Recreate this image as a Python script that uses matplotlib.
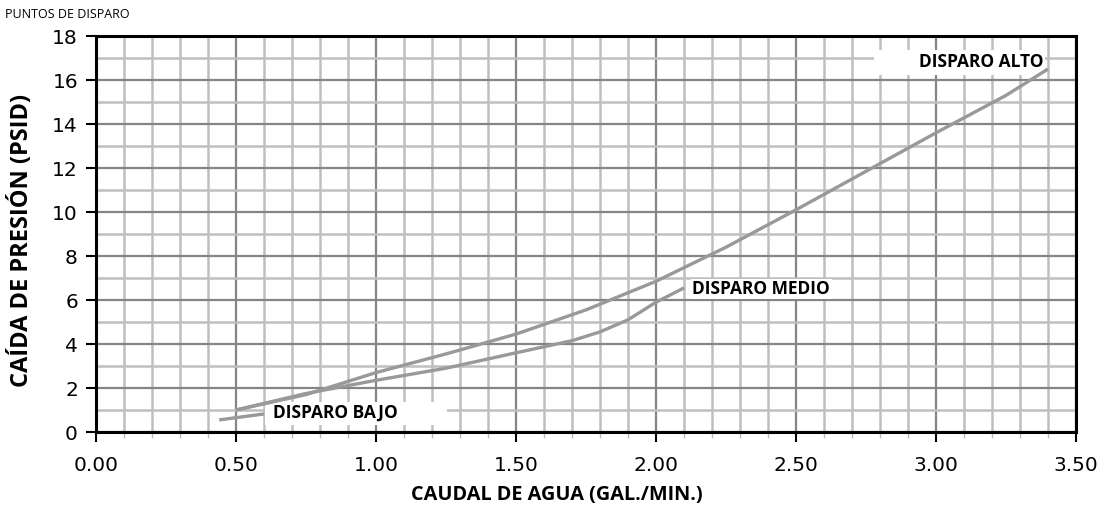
import matplotlib
matplotlib.use("Agg")
import matplotlib.pyplot as plt
from matplotlib.ticker import MultipleLocator, FormatStrFormatter
from matplotlib.patches import Rectangle

# Data
alto_x = [0.50, 0.75, 1.00, 1.25, 1.50, 1.75, 2.00, 2.25, 2.50, 2.75, 3.00, 3.25, 3.40]
alto_y = [1.00, 1.70, 2.70, 3.55, 4.45, 5.55, 6.85, 8.40, 10.10, 11.85, 13.60, 15.30, 16.50]
medio_x = [0.50, 0.75, 1.00, 1.25, 1.50, 1.70, 1.80, 1.90, 2.00, 2.10]
medio_y = [1.00, 1.75, 2.35, 2.90, 3.60, 4.15, 4.55, 5.10, 5.90, 6.55]
bajo_x = [0.44, 0.60]
bajo_y = [0.55, 0.82]
labels = ["DISPARO ALTO", "DISPARO MEDIO", "DISPARO BAJO"]
title = "PUNTOS DE DISPARO"
xlabel = "CAUDAL DE AGUA (GAL./MIN.)"
ylabel = "CAÍDA DE PRESIÓN (PSID)"

fig = plt.figure(figsize=(11.1, 5.13), dpi=100)
ax = fig.add_axes([96/1110, 81/513, 980/1110, 396/513])
ax.set_xlim(0, 3.5)
ax.set_ylim(0, 18)

ax.xaxis.set_major_locator(MultipleLocator(0.5))
ax.xaxis.set_minor_locator(MultipleLocator(0.1))
ax.yaxis.set_major_locator(MultipleLocator(2))
ax.yaxis.set_minor_locator(MultipleLocator(1))
ax.xaxis.set_major_formatter(FormatStrFormatter('%.2f'))

ax.grid(which='minor', color='#bfbfbf', linewidth=1.8, zorder=0)
ax.grid(which='major', color='#858585', linewidth=1.6, zorder=0)
ax.set_axisbelow(True)

for s in ax.spines.values():
    s.set_linewidth(2.2)
    s.set_color('black')

ax.tick_params(which='major', direction='out', length=7, width=1.5, labelsize=14.5, pad=6)
ax.tick_params(axis='x', which='major', pad=10)
ax.tick_params(which='minor', direction='out', length=4, width=1, color='#bfbfbf')
ax.tick_params(axis='y', which='minor', length=0)

line_color = '#999999'
ax.plot(alto_x, alto_y, color=line_color, lw=2.4, solid_capstyle='butt', zorder=3)
ax.plot(medio_x, medio_y, color=line_color, lw=2.4, solid_capstyle='butt', zorder=3)
ax.plot(bajo_x, bajo_y, color=line_color, lw=2.4, solid_capstyle='butt', zorder=3)

# white label backgrounds
ax.add_patch(Rectangle((2.78, 16.23), 0.61, 1.13, facecolor='white', edgecolor='none', zorder=2.5))
ax.add_patch(Rectangle((0.605, 0.32), 0.65, 1.04, facecolor='white', edgecolor='none', zorder=2.5))

lab_font = dict(fontfamily='Open Sans', fontweight='bold', fontsize=12.5, color='black', zorder=4)
ax.text(3.385, 16.82, labels[0], ha='right', va='center', **lab_font)
ax.text(2.13, 6.5, labels[1], ha='left', va='center',
        bbox=dict(facecolor='white', edgecolor='none', pad=1), **lab_font)
ax.text(0.632, 0.86, labels[2], ha='left', va='center', **lab_font)

fig.text(5/1110, 1 - 14/513, title, fontfamily='Open Sans', fontsize=9, va='center', ha='left')
ax.set_xlabel(xlabel, fontfamily='Open Sans', fontweight='bold', fontsize=14.3, va='center')
ax.xaxis.set_label_coords((557 - 96) / 980, (432 - 495) / 396)
ax.set_ylabel(ylabel, fontfamily='Open Sans', fontweight='bold', fontsize=17, va='center')
ax.yaxis.set_label_coords((22 - 96) / 980, (432 - 240) / 396)

fig.savefig('out.png', dpi=100)
